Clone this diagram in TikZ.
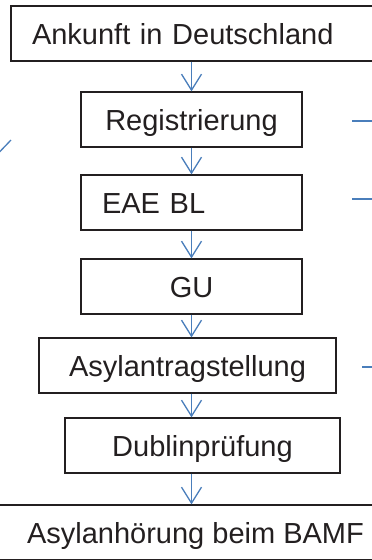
\documentclass[tikz,border=0pt]{standalone}
\usepackage{fontspec}
\setmainfont{Liberation Sans}
\usetikzlibrary{arrows.meta, positioning}
\definecolor{flowblue}{HTML}{4A7EBB}
\definecolor{boxline}{HTML}{231F20}

\begin{document}
\begin{tikzpicture}[x=1pt, y=-1pt,
  box/.style={draw=boxline, line width=1.3pt, minimum height=55pt, text height=21pt, text depth=0pt,
    inner xsep=21pt, font=\fontsize{29}{34}\selectfont, text=boxline},
  flow/.style={draw=flowblue, line width=1.3pt, -{Straight Barb[length=16pt, width=20pt]}},
  stub/.style={draw=flowblue, line width=1.3pt}]
\useasboundingbox (0,0) rectangle (372,560);

% Steps
\node[box, text width=340pt, align=left] (arrival) at (202, 33.5) {Ankunft in Deutschland};
\node[box, minimum width=221pt] (reg) at (191.5, 119.5) {Registrierung};
\node[box, text width=179pt, align=left] (eae) at (191.5, 202.5) {EAE BL};
\node[box, minimum width=221pt] (gu) at (191.5, 286.5) {GU};
\node[box, minimum width=297pt] (antrag) at (187.5, 365.5) {Asylantragstellung};
\node[box, minimum width=275pt] (dublin) at (202.5, 445.5) {Dublinprüfung};
\node[box, minimum width=440pt] (hearing) at (195.5, 532.5) {Asylanhörung beim BAMF};

% Arrows down the chain
\draw[flow] (arrival.south -| reg.north) -- (reg.north);
\draw[flow] (reg) -- (eae);
\draw[flow] (eae) -- (gu);
\draw[flow] (gu.south) -- (antrag.north -| gu.south);
\draw[flow] (antrag.south -| gu.south) -- (dublin.north -| gu.south);
\draw[flow] (dublin.south -| gu.south) -- (hearing.north -| gu.south);

% Connectors leaving the picture
\coordinate (regout) at (352, 121);
\coordinate (regend) at (390, 121);
\coordinate (eaeout) at (352, 199);
\coordinate (eaeend) at (390, 199);
\coordinate (antragout) at (362, 367);
\coordinate (antragend) at (390, 367);
\coordinate (leftin) at (11, 140);
\coordinate (leftend) at (-12, 164);
\draw[stub] (regout) -- (regend);
\draw[stub] (eaeout) -- (eaeend);
\draw[stub] (antragout) -- (antragend);
\draw[stub] (leftend) -- (leftin);
\end{tikzpicture}
\end{document}
